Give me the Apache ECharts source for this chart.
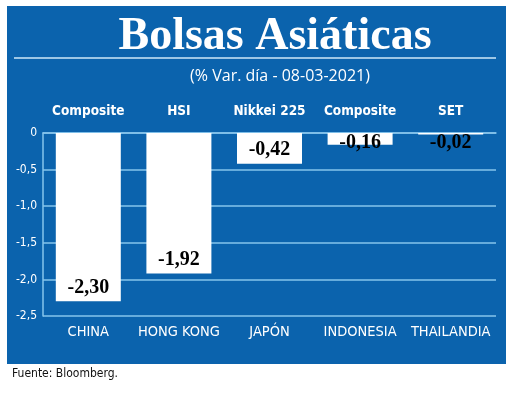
<!DOCTYPE html>
<html>
<head>
<meta charset="utf-8">
<script src="https://cdn.jsdelivr.net/npm/echarts@6/dist/echarts.min.js"></script>
<style>html,body{margin:0;padding:0;background:#fff}#c{width:520px;height:396px}</style>
</head>
<body>
<div id="c"></div>
<script>
const countries = ['CHINA', 'HONG KONG', 'JAPÓN', 'INDONESIA', 'THAILANDIA'];
const indices = ['Composite', 'HSI', 'Nikkei 225', 'Composite', 'SET'];
const values = [-2.30, -1.92, -0.42, -0.16, -0.02];
const yMin = -2.5, yMax = 0, yStep = 0.5;

const blue = '#0b63ad';
const grid = '#86c4ec';
const narrow = '"Liberation Sans Narrow","DejaVu Sans Condensed","Open Sans",sans-serif';
const fmt = v => v.toFixed(2).replace('.', ',');

const chart = echarts.init(document.getElementById('c'), null, {renderer: 'canvas'});
chart.setOption({
  backgroundColor: '#fff',
  animation: false,
  graphic: [
    {type: 'rect', z: -10, shape: {x: 7, y: 6, width: 499, height: 358}, style: {fill: blue}},
    {type: 'line', z: 1, shape: {x1: 14, y1: 58, x2: 496, y2: 58}, style: {stroke: '#cfe8fa', lineWidth: 1.5}},
    {type: 'text', left: 12, top: 368, style: {text: 'Fuente: Bloomberg.', fill: '#111', font: '12px ' + narrow}}
  ],
  title: [
    {text: 'Bolsas Asiáticas', left: 270, top: 9, textAlign: 'center',
     textStyle: {color: '#fff', fontFamily: '"Liberation Serif","DejaVu Serif",serif', fontWeight: 'bold', fontSize: 46}},
    {text: '(% Var. día - 08-03-2021)', left: 275, top: 63, textAlign: 'center',
     textStyle: {color: '#fff', fontFamily: '"Open Sans",sans-serif', fontWeight: 'normal', fontSize: 16}}
  ],
  grid: {left: 43, right: 24, top: 133, bottom: 80, containLabel: false},
  xAxis: [
    {type: 'category', data: countries, position: 'bottom',
     axisLine: {show: true, lineStyle: {color: grid, width: 1.5}},
     axisTick: {show: false},
     axisLabel: {interval: 0, color: '#fff', fontFamily: narrow, fontSize: 14.5, margin: 9}},
    {type: 'category', data: indices, position: 'top',
     axisLine: {show: false}, axisTick: {show: false},
     axisLabel: {interval: 0, color: '#fff', fontFamily: narrow, fontWeight: 'bold', fontSize: 13.5, margin: 15}}
  ],
  yAxis: {
    type: 'value', min: yMin, max: yMax, interval: yStep,
    axisLine: {show: true, lineStyle: {color: grid, width: 1.5}},
    axisTick: {show: false},
    splitLine: {show: true, lineStyle: {color: grid, width: 1.5}},
    axisLabel: {color: '#fff', fontFamily: narrow, fontSize: 12, margin: 6,
      formatter: v => v === 0 ? '0' : v.toFixed(1).replace('.', ',')}
  },
  series: [{
    type: 'bar', xAxisIndex: 0, barWidth: 65,
    itemStyle: {color: '#fff'},
    data: values.map(v => ({
      value: v,
      label: {show: true, position: Math.abs(v) < 0.3 ? 'insideTop' : 'insideBottom',
        distance: Math.abs(v) < 0.3 ? 0 : 4}
    })),
    label: {show: true, formatter: p => fmt(p.value), color: '#000',
      fontFamily: '"Liberation Serif","DejaVu Serif",serif', fontWeight: 'bold', fontSize: 20}
  }]
});
</script>
</body>
</html>
